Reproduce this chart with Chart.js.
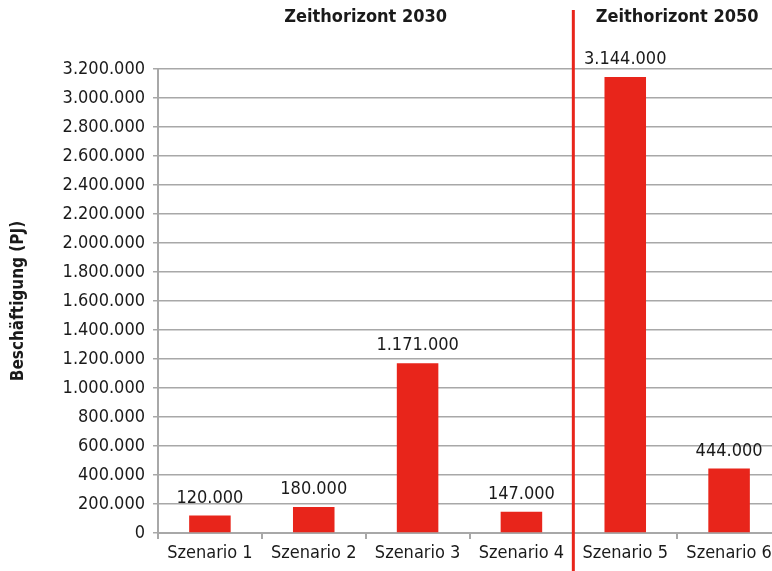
<!DOCTYPE html>
<html>
<head>
<meta charset="utf-8">
<script src="https://cdn.jsdelivr.net/npm/chart.js@4"></script>
<style>
  html, body { margin: 0; padding: 0; background: #fff; overflow: hidden; }
  #wrap { width: 790px; height: 571px; }
</style>
</head>
<body>
<div id="wrap"><canvas id="chart" width="790" height="571"></canvas></div>
<script>
// ===== DATA =====
const categories = ["Szenario 1", "Szenario 2", "Szenario 3", "Szenario 4", "Szenario 5", "Szenario 6"];
const values = [120000, 180000, 1171000, 147000, 3144000, 444000];
const groups = [
  { title: "Zeithorizont 2030", from: 0, to: 3 },
  { title: "Zeithorizont 2050", from: 4, to: 5 }
];
const yAxisTitle = "Beschäftigung (PJ)";

// ===== STYLE =====
const FONT = "'DejaVu Sans Condensed', 'Liberation Sans Narrow', sans-serif";
const RED = "#e8251b";
const GRID = "#a8a8a8";
const TEXT = "#1a1a1a";

function fmt(v) {
  return String(Math.round(v)).replace(/\B(?=(\d{3})+(?!\d))/g, ".");
}

// labels above bars
const valueLabels = {
  id: "valueLabels",
  afterDatasetsDraw(chart) {
    const ctx = chart.ctx;
    const meta = chart.getDatasetMeta(0);
    ctx.save();
    ctx.font = "18px " + FONT;
    ctx.fillStyle = TEXT;
    ctx.textAlign = "center";
    ctx.textBaseline = "alphabetic";
    meta.data.forEach((bar, i) => {
      ctx.fillText(fmt(values[i]), bar.x, bar.y - 13);
    });
    ctx.restore();
  }
};

// group titles + separator line
const groupMarks = {
  id: "groupMarks",
  afterDraw(chart) {
    const ctx = chart.ctx;
    const x = chart.scales.x;
    ctx.save();
    ctx.font = "bold 18px " + FONT;
    ctx.fillStyle = TEXT;
    ctx.textAlign = "center";
    ctx.textBaseline = "middle";
    groups.forEach(g => {
      const cx = (x.getPixelForValue(g.from) + x.getPixelForValue(g.to)) / 2;
      ctx.fillText(g.title, cx, 17);
    });
    // separator between the two horizons
    const sx = (x.getPixelForValue(groups[0].to) + x.getPixelForValue(groups[1].from)) / 2;
    ctx.strokeStyle = RED;
    ctx.lineWidth = 3;
    ctx.beginPath();
    ctx.moveTo(sx, 10);
    ctx.lineTo(sx, chart.height);
    ctx.stroke();
    ctx.restore();
  }
};

new Chart(document.getElementById("chart"), {
  type: "bar",
  data: {
    labels: categories,
    datasets: [{
      data: values,
      backgroundColor: RED,
      barPercentage: 0.4,
      categoryPercentage: 1.0
    }]
  },
  options: {
    responsive: false,
    animation: false,
    layout: { padding: { top: 69, right: 9, left: 0, bottom: 0 } },
    plugins: { legend: { display: false }, tooltip: { enabled: false } },
    scales: {
      y: {
        min: 0,
        max: 3200000,
        ticks: {
          stepSize: 200000,
          color: TEXT,
          font: { family: FONT, size: 18 },
          callback: v => fmt(v),
          padding: 8
        },
        grid: { color: GRID, lineWidth: 1.5, tickLength: 5, tickColor: GRID },
        border: { color: GRID, width: 2 },
        title: {
          display: true,
          text: yAxisTitle,
          color: TEXT,
          font: { family: FONT, size: 17, weight: "bold" },
          padding: { top: 8, bottom: 0 }
        },
        afterFit(scale) { scale.width = 158; }
      },
      x: {
        ticks: { color: TEXT, font: { family: FONT, size: 18 }, padding: 4 },
        grid: { display: true, drawOnChartArea: false, offset: true, tickLength: 6, color: GRID, lineWidth: 2 },
        border: { color: GRID, width: 2 },
        afterFit(scale) { scale.height = 38; }
      }
    }
  },
  plugins: [valueLabels, groupMarks]
});
</script>
</body>
</html>
